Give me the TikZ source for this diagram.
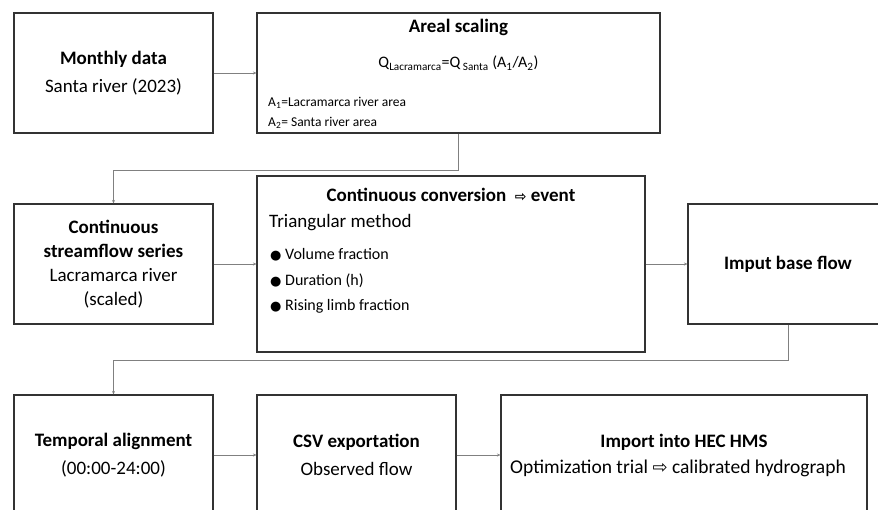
\documentclass[tikz,border=0pt]{standalone}
\usepackage{fontspec}
\setmainfont{Carlito}
\newfontfamily\symbfont{DejaVu Sans}
\usetikzlibrary{arrows.meta}
\newcommand{\wharrow}[1][14]{{\symbfont\fontsize{#1}{#1}\selectfont\char"21E8}}
\newcommand{\blt}{{\symbfont\fontsize{13}{13}\selectfont\char"25CF}}

\begin{document}
\begin{tikzpicture}[x=1pt,y=-1pt,
    box/.style={draw=black!80, line width=1.1pt, inner sep=0pt, align=center, font=\fontsize{19}{24}\selectfont},
    conn/.style={draw=black!50, line width=0.7pt, -{Stealth[length=3.5pt,width=3pt]}},
    txt/.style={inner sep=0pt, font=\fontsize{19}{23}\selectfont}]
      \useasboundingbox (0,0) rectangle (878,509);
      \clip (0,0) rectangle (878,509);

      \node [box, minimum width=199, minimum height=120] (monthly) at (113.5,73) {\textbf{Monthly data}\\[4pt]Santa river (2023)};
      \node [box, minimum width=403, minimum height=120] (areal) at (458.5,73) {};
      \node [txt, font=\fontsize{19}{23}\selectfont\bfseries] (arealtitle) at (458.5,27) {Areal scaling};
      \node [txt, font=\fontsize{16}{19}\selectfont] (formula) at (458.5,63) {Q\textsubscript{Lacramarca}=Q\textsubscript{ Santa} (A\textsubscript{1}/A\textsubscript{2})};
      \node [txt, anchor=west, font=\fontsize{13.5}{16}\selectfont] (areaone) at (268,103) {A\textsubscript{1}=Lacramarca river area};
      \node [txt, anchor=west, font=\fontsize{13.5}{16}\selectfont] (areatwo) at (268,123) {A\textsubscript{2}= Santa river area};

      \node [box, minimum width=199, minimum height=120] (stream) at (113.5,264) {\textbf{Continuous}\\\textbf{streamflow series}\\Lacramarca river\\(scaled)};
      \node [box, minimum width=388, minimum height=176] (conv) at (451,264) {};
      \node [txt, font=\fontsize{19}{23}\selectfont\bfseries] (convtitle) at (451,195) {Continuous conversion\ \ \wharrow\ event};
      \node [txt, anchor=west] (method) at (269,223) {Triangular method};
      \node [txt, anchor=west, font=\fontsize{16}{19}\selectfont] (volume) at (270,255) {\blt\ Volume fraction};
      \node [txt, anchor=west, font=\fontsize{16}{19}\selectfont] (duration) at (270,281) {\blt\ Duration (h)};
      \node [txt, anchor=west, font=\fontsize{16}{19}\selectfont] (rising) at (270,306) {\blt\ Rising limb fraction};
      \node [box, minimum width=200, minimum height=120] (imput) at (788,264) {\textbf{Imput base flow}};

      \node [box, minimum width=199, minimum height=120] (temporal) at (113.5,455) {\textbf{Temporal alignment}\\[4pt](00:00-24:00)};
      \node [box, minimum width=199, minimum height=120] (csv) at (356.5,455) {\textbf{CSV exportation}\\[4pt]Observed flow};
      \node [box, minimum width=366, minimum height=120] (import) at (684,455) {};
      \node [txt, font=\fontsize{19}{23}\selectfont\bfseries] (importtitle) at (684,442) {Import into HEC HMS};
      \node [txt, font=\fontsize{19.5}{23}\selectfont] (trial) at (678,468) {Optimization trial\ \wharrow[18]\ calibrated hydrograph};

      \draw [conn] (monthly.east) -- (areal.west);
      \draw [conn] (areal.south) -- ++(0,37) -| (stream.north);
      \draw [conn] (stream.east) -- (conv.west);
      \draw [conn] (conv.east) -- (imput.west);
      \draw [conn] (imput.south) -- ++(0,36) -| (temporal.north);
      \draw [conn] (temporal.east) -- (csv.west);
      \draw [conn] (csv.east) -- (import.west);
    \end{tikzpicture}
\end{document}
